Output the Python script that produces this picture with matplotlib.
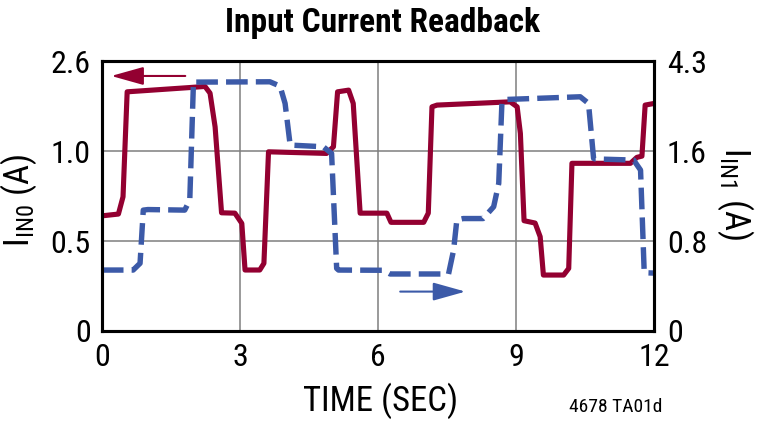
import numpy as np
import matplotlib
matplotlib.use("Agg")
import matplotlib.pyplot as plt

# I_IN0 readback (left axis, A)
time_in0 = [0.0, 0.36, 0.46, 0.55, 1.91, 2.24, 2.35, 2.46, 2.60, 2.89, 3.04, 3.11,
            3.43, 3.52, 3.62, 4.88, 5.03, 5.12, 5.36, 5.46, 5.61, 6.19, 6.28, 6.99,
            7.09, 7.17, 7.28, 8.87, 9.02, 9.09, 9.17, 9.41, 9.52, 9.59, 10.03, 10.14,
            10.21, 11.48, 11.62, 11.73, 11.80, 12.0]
in0_amps = [0.640, 0.650, 0.746, 2.054, 2.13, 2.15, 2.03, 1.43, 0.657, 0.655, 0.598, 0.339,
            0.339, 0.376, 0.996, 0.987, 1.077, 2.054, 2.084, 1.848, 0.655, 0.655, 0.604, 0.604,
            0.655, 1.787, 1.818, 1.876, 1.787, 1.314, 0.613, 0.600, 0.524, 0.311, 0.311, 0.348,
            0.932, 0.932, 0.965, 0.972, 1.818, 1.848]

# I_IN1 readback (right axis, A)
time_in1 = [0.0, 0.68, 0.83, 0.90, 1.00, 1.80, 1.91, 1.99, 2.04, 3.65, 3.87, 3.98,
            4.09, 4.81, 4.99, 5.10, 5.14, 6.12, 6.26, 7.53, 7.64, 7.71, 7.85, 8.28,
            8.51, 8.62, 8.69, 8.80, 10.39, 10.57, 10.68, 10.72, 11.55, 11.70, 11.78, 12.0]
in1_amps = [0.542, 0.542, 0.602, 1.075, 1.08, 1.075, 1.165, 3.68, 3.67, 3.68, 3.55, 3.03,
            1.78, 1.73, 1.579, 0.557, 0.542, 0.540, 0.507, 0.507, 0.72, 0.987, 1.0, 1.0,
            1.105, 1.313, 3.08, 3.15, 3.23, 3.03, 1.535, 1.53, 1.52, 1.431, 0.518, 0.515]

time_ticks = [0, 3, 6, 9, 12]
in0_ticks = [0, 0.5, 1.0, 2.6]
in0_labels = ["0", "0.5", "1.0", "2.6"]
in1_ticks = [0, 0.8, 1.6, 4.3]
in1_labels = ["0", "0.8", "1.6", "4.3"]
grid_steps = [0, 1, 2, 3]

RED = "#930031"
BLUE = "#3c5aa8"
FONT = ["Roboto Condensed", "Archivo Narrow", "Barlow Condensed", "DejaVu Sans"]

plt.rcParams["font.family"] = FONT
plt.rcParams["mathtext.fontset"] = "custom"
plt.rcParams["mathtext.rm"] = "Roboto Condensed"
plt.rcParams["mathtext.it"] = "Roboto Condensed"


def piecewise(ticks):
    # evenly spaced grid rows carrying unevenly spaced current values
    fwd = lambda v: np.interp(v, ticks, grid_steps)
    inv = lambda u: np.interp(u, grid_steps, ticks)
    return fwd, inv


fig = plt.figure(figsize=(7.6, 4.23), dpi=100)
ax = fig.add_axes([0.134, 0.2175, 0.727, 0.638])
ax2 = ax.twinx()

ax.set_yscale("function", functions=piecewise(in0_ticks))
ax2.set_yscale("function", functions=piecewise(in1_ticks))

ax.plot(time_in0, in0_amps, color=RED, lw=3.7, solid_joinstyle="round",
        solid_capstyle="butt")
ax2.plot(time_in1, in1_amps, color=BLUE, lw=3.9, linestyle=(0, (4.0, 1.5)),
         dash_joinstyle="round", dash_capstyle="butt")

ax.set_xlim(0, 12)
ax.set_ylim(0, 2.6)
ax2.set_ylim(0, 4.3)

ax.set_xticks(time_ticks)
ax.set_xticklabels([str(t) for t in time_ticks])
ax.set_yticks(in0_ticks)
ax.set_yticklabels(in0_labels)
ax2.set_yticks(in1_ticks)
ax2.set_yticklabels(in1_labels)
ax.minorticks_off()
ax2.minorticks_off()

ax.tick_params(axis="both", length=0, labelsize=23)
ax.tick_params(axis="y", pad=8)
ax.tick_params(axis="x", pad=9)
ax2.tick_params(axis="y", length=0, labelsize=23, pad=9)

ax.grid(True, color="#7f7f7f", lw=1.1)
ax.set_axisbelow(True)
for a in (ax, ax2):
    for s in a.spines.values():
        s.set_linewidth(2.2)
        s.set_color("black")

ax.set_xlabel("TIME (SEC)", fontsize=25, va="center")
ax.xaxis.set_label_coords(0.504, -0.258)
ax.set_ylabel(r"$\mathregular{I_{IN0}}$ (A)", fontsize=25, va="center")
ax.yaxis.set_label_coords(-0.15, 0.485)
ax2.set_ylabel(r"$\mathregular{I_{IN1}}$ (A)", fontsize=25, rotation=-90,
               va="center")
ax2.yaxis.set_label_coords(1.147, 0.51)

# direction arrows pointing to each series' axis
ax.annotate("", xy=(0.017, 0.945), xytext=(0.151, 0.945), xycoords="axes fraction",
            arrowprops=dict(arrowstyle="-|>,head_length=1.0,head_width=0.28",
                            mutation_scale=20, color=RED, lw=1.5,
                            shrinkA=0, shrinkB=0))
ax2.annotate("", xy=(0.658, 0.146), xytext=(0.54, 0.146), xycoords="axes fraction",
             arrowprops=dict(arrowstyle="-|>,head_length=1.0,head_width=0.28",
                             mutation_scale=20, color=BLUE, lw=1.5,
                             shrinkA=0, shrinkB=0))

fig.text(0.504, 0.946, "Input Current Readback", ha="center", va="center",
         fontsize=24, fontweight=900)
fig.text(0.81, 0.038, "4678 TA01d", ha="center", va="center", fontsize=14)

fig.savefig("out.png", dpi=100)
